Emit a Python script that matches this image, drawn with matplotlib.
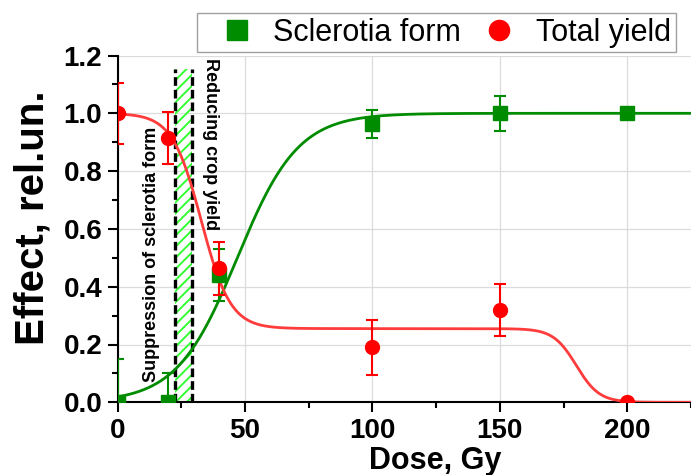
import numpy as np
import matplotlib
matplotlib.use('Agg')
import matplotlib.pyplot as plt

# Measured points (dose in Gy, effect in relative units)
dose = [0, 20, 40, 100, 150, 200]
sclerotia = [0.0, 0.0, 0.44, 0.963, 1.0, 1.0]
sclerotia_err = [0.15, 0.10, 0.09, 0.05, 0.06, 0.0]
total_yield = [1.0, 0.915, 0.463, 0.19, 0.32, 0.0]
total_yield_err = [0.105, 0.09, 0.09, 0.095, 0.09, 0.0]

# Boltzmann fit parameters
scl_fit = {'A1': 0.0, 'A2': 1.0, 'x0': 47.0, 'dx': 11.9}
yield_fit = {'h1': 0.745, 'x1': 32.9, 'd1': 5.7, 'h2': 0.255, 'x2': 180.0, 'd2': 4.5}

# Hatched dose window between the two effects
band_lo, band_hi, band_top = 22.5, 29.1, 1.155

x_ticks = [0, 50, 100, 150, 200]
y_ticks = [0.0, 0.2, 0.4, 0.6, 0.8, 1.0, 1.2]

GREEN = '#008C00'
RED = '#FF0000'
RED_LINE = '#FF3C3C'
LIME = '#33FF33'

plt.rcParams['font.family'] = ['Liberation Sans', 'DejaVu Sans']
plt.rcParams['hatch.linewidth'] = 1.4


def boltzmann(x, a1, a2, x0, dx):
    return a2 + (a1 - a2) / (1 + np.exp((x - x0) / dx))


fig = plt.figure(figsize=(6.91, 4.75), dpi=100)
ax = fig.add_axes([117.5 / 691, 1 - 402.3 / 475, 1 - 117.5 / 691, 346.8 / 475])

xs = np.linspace(0, 225, 900)
scl_curve = boltzmann(xs, scl_fit['A1'], scl_fit['A2'], scl_fit['x0'], scl_fit['dx'])
yield_curve = (boltzmann(xs, yield_fit['h1'], 0, yield_fit['x1'], yield_fit['d1'])
               + boltzmann(xs, yield_fit['h2'], 0, yield_fit['x2'], yield_fit['d2']))

# hatched band with dashed borders
ax.fill_betweenx([0, band_top], band_lo, band_hi, facecolor='none', edgecolor=LIME,
                 hatch='///', linewidth=0, zorder=2)
ax.vlines([band_lo, band_hi], 0, band_top, colors='black', linestyles=(0, (2.6, 1.2)),
          linewidth=2.4, zorder=3)

ax.plot(xs, scl_curve, color=GREEN, lw=2.0, zorder=4)
ax.plot(xs, yield_curve, color=RED_LINE, lw=2.0, zorder=4)

ax.errorbar(dose, sclerotia, yerr=sclerotia_err, fmt='none', ecolor=GREEN,
            elinewidth=1.5, capsize=4, capthick=1.5, zorder=5)
ax.errorbar(dose, total_yield, yerr=total_yield_err, fmt='none', ecolor=RED,
            elinewidth=1.5, capsize=4, capthick=1.5, zorder=6)
h1, = ax.plot(dose, sclerotia, 's', color=GREEN, ms=9.5, label='Sclerotia form', zorder=7)
h2, = ax.plot(dose, total_yield, 'o', color=RED, ms=10, label='Total yield', zorder=8)

ax.text(13.2, 0.07, 'Suppression of sclerotia form', rotation=90, ha='center', va='bottom',
        fontsize=13, fontweight='bold', zorder=9)
ax.text(36.3, 1.19, 'Reducing crop yield', rotation=-90, ha='center', va='top',
        fontsize=13, fontweight='bold', zorder=9)

ax.set_xlim(0, 222.4)
ax.set_ylim(0, 1.2)
ax.set_xticks(x_ticks)
ax.set_yticks(y_ticks)
ax.set_xticks([25, 75, 125, 175, 225], minor=True)
ax.set_yticks(np.arange(0.1, 1.2, 0.2), minor=True)
ax.set_yticklabels([f'{v:.1f}' for v in y_ticks])
ax.tick_params(which='major', direction='out', length=7, width=1.5, labelsize=20, pad=4)
ax.tick_params(which='minor', direction='out', length=4, width=1.5)
for lbl in ax.get_xticklabels() + ax.get_yticklabels():
    lbl.set_fontweight('bold')

ax.grid(True, which='major', color='#DCDCDC', lw=0.9, zorder=0)
ax.set_axisbelow(True)
for side in ['top', 'right']:
    ax.spines[side].set_visible(False)
for side in ['left', 'bottom']:
    ax.spines[side].set_linewidth(1.5)
    ax.spines[side].set_zorder(3.5)

ax.set_xlabel('Dose, Gy', fontsize=22, fontweight='bold')
ax.xaxis.set_label_coords(0.554, -0.126)
ax.set_ylabel('Effect, rel.un.', fontsize=29, fontweight='bold')
ax.yaxis.set_label_coords(-0.115, 0.531)

fig.legend(handles=[h1, h2], loc='upper left', bbox_to_anchor=(197 / 691, 1 - 13 / 475),
           ncol=2, fontsize=22, frameon=True, fancybox=False, edgecolor='#A0A0A0',
           framealpha=1, borderpad=0.15, borderaxespad=0, handlelength=2.3,
           handletextpad=0.05, columnspacing=0.1, markerscale=1.45)

fig.savefig('out.png', dpi=100)
